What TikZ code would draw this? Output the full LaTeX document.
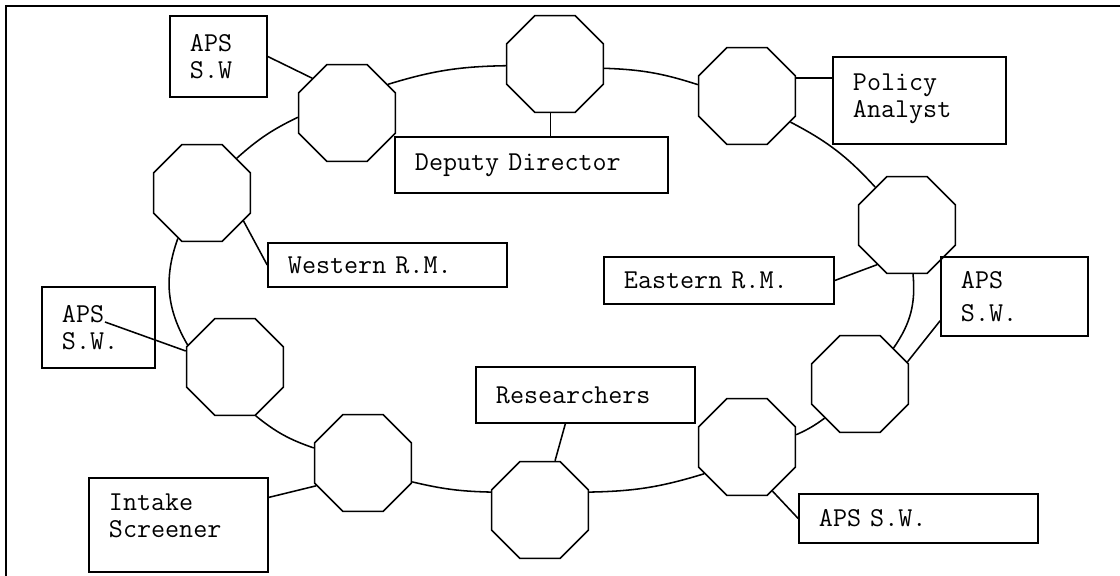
\documentclass[tikz,border=0pt]{standalone}
\usepackage{fontspec}
\usetikzlibrary{shapes.geometric}

\begin{document}
\begin{tikzpicture}[
    x=0.025cm, y=-0.025cm,
    line width=1.1pt,
    station/.style={draw, regular polygon, regular polygon sides=8,
        minimum size=2.62cm, inner sep=0pt},
    role/.style={draw, rectangle, align=left, inner xsep=0.5cm,
        inner ysep=2pt, font=\ttfamily\fontsize{19.4}{19}\selectfont},
]
\useasboundingbox (0,0) rectangle (1120,576);

% === Frame ===
\draw (1120,6) -- (6,6) -- (6,576);

% === Stations on the ring ===
\node[station] (oa) at (347,113) {};
\node[station] (ob) at (555,64) {};
\node[station] (oc) at (747,96) {};
\node[station] (od) at (907,225) {};
\node[station] (oe) at (860,384) {};
\node[station] (of) at (747,447) {};
\node[station] (og) at (540,510) {};
\node[station] (oh) at (363,463) {};
\node[station] (oi) at (235,367) {};
\node[station] (oj) at (202,193) {};

% === Ring ===
\draw (oa.35) to[bend left=8] (ob.182);
\draw (ob.355) to[bend left=8] (oc.167);
\draw (oc.329) to[bend left=10] (od.130);
\draw (od.277) to[bend left=20] (oe.47);
\draw (oe.224) to[bend left=6] (of.14);
\draw (of.212) to[bend left=8] (og.20);
\draw (og.160) to[bend left=6] (oh.339);
\draw (oh.163) to[bend left=10] (oi.293);
\draw (oi.155) to[bend left=25] (oj.242);
\draw (oj.45) to[bend left=8] (oa.185);

% === Roles ===
\node[role, text width=1.425cm, minimum height=2.025cm] (apsnw) at (218.5,56.5)
    {APS\\S.W};
\node[role, text width=5.825cm, minimum height=1.4cm] (deputy) at (531.5,165)
    {Deputy Director};
\node[role, text width=3.325cm, minimum height=2.175cm, text depth=0.92cm]
    (policy) at (919.5,100.5) {Policy\\Analyst};
\node[role, text width=4.975cm, minimum height=1.1cm] (western) at (387.5,265)
    {Western R.M.};
\node[role, text width=4.75cm, minimum height=1.175cm] (eastern) at (719,280.5)
    {Eastern R.M.};
\node[role, text width=2.675cm, minimum height=1.975cm] (apsse) at (1014.5,296.5)
    {APS\\[4pt]S.W.};
\node[role, text width=1.825cm, minimum height=2.025cm] (apsw) at (98.5,327.5)
    {APS\\S.W.};
\node[role, text width=4.475cm, minimum height=1.4cm] (research) at (585.5,395)
    {Researchers};
\node[role, text width=4.975cm, minimum height=1.225cm] (apss) at (918.5,518.5)
    {APS S.W.};
\node[role, text width=3.475cm, minimum height=2.35cm, text depth=1.15cm]
    (intake) at (178.5,525) {Intake\\Screener};
\coordinate (apswtail) at (105,322);

% === Links ===
\draw (apsnw.east) -- (oa.north west);
\draw (ob.265) -- (ob.265 |- deputy.north);
\draw (oc.20) -- (oc.20 -| policy.west);
\draw (eastern.east) -- (od.233);
\draw (apsse.198) -- (oe.25);
\draw (of.300) -- (apss.west);
\draw (research.235) -- (og.73);
\draw (intake.17) -- (oh.206);
\draw (apswtail) -- (oi.162);
\draw (oj.326) -- (western.west);

\end{tikzpicture}
\end{document}
